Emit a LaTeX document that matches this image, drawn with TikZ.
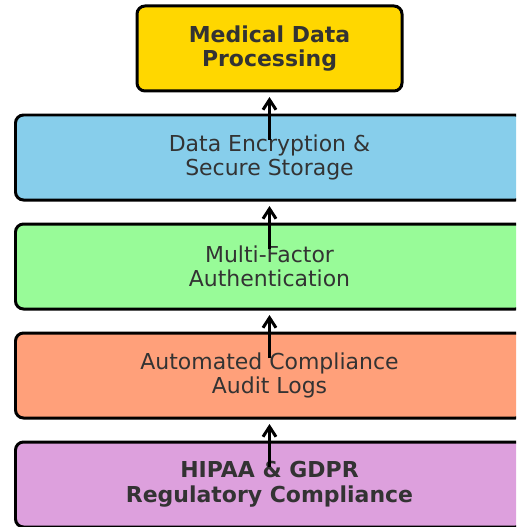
\documentclass[tikz,border=0pt]{standalone}
\usepackage{fontspec}
\setmainfont{DejaVu Sans}
\usepackage{tikz}
\usetikzlibrary{arrows.meta, positioning}

\definecolor{gold}{HTML}{FFD700}
\definecolor{skyblue}{HTML}{87CEEB}
\definecolor{palegreen}{HTML}{98FB98}
\definecolor{salmon}{HTML}{FFA07A}
\definecolor{plum}{HTML}{DDA0DD}
\definecolor{textgray}{HTML}{333333}

\begin{document}
\begin{tikzpicture}[
    node distance=0.48cm,
    box/.style={rectangle, draw, line width=0.06cm, rounded corners=0.16cm, minimum width=10.16cm, minimum height=1.7cm, outer sep=0pt, align=center, text=textgray, font=\fontsize{12.5}{14}\selectfont},
    bold/.style={font=\fontsize{12.5}{14}\selectfont\bfseries},
    arrow/.style={-{Straight Barb[length=2mm, width=2.6mm]}, line width=0.06cm},
]
\clip (0,0) rectangle (10.32,-10.54);
\node[box, bold, fill=gold, minimum width=5.3cm] (proc) at (5.39,-0.97) {Medical Data\\Processing};
\node[box, fill=skyblue, below=of proc] (encrypt) {Data Encryption \&\\Secure Storage};
\node[box, fill=palegreen, below=of encrypt] (mfa) {Multi-Factor\\Authentication};
\node[box, fill=salmon, below=of mfa] (audit) {Automated Compliance\\Audit Logs};
\node[box, bold, fill=plum, below=of audit] (hipaa) {HIPAA \& GDPR\\Regulatory Compliance};

\draw[arrow] ([yshift=-0.5cm]encrypt.north) -- ([yshift=-0.12cm]proc.south);
\draw[arrow] ([yshift=-0.5cm]mfa.north) -- ([yshift=-0.12cm]encrypt.south);
\draw[arrow] ([yshift=-0.5cm]audit.north) -- ([yshift=-0.12cm]mfa.south);
\draw[arrow] ([yshift=-0.5cm]hipaa.north) -- ([yshift=-0.12cm]audit.south);
\end{tikzpicture}
\end{document}
